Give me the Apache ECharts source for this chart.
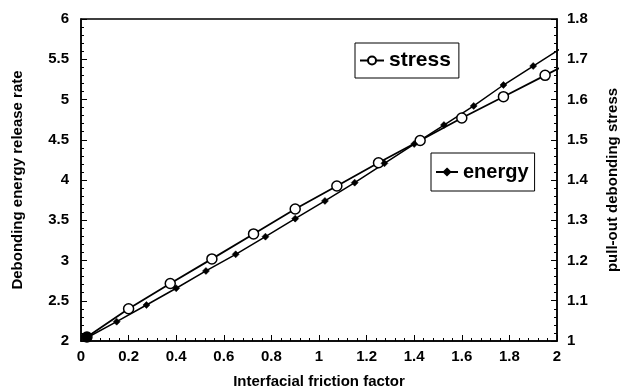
<!DOCTYPE html>
<html><head><meta charset="utf-8">
<script src="https://cdn.jsdelivr.net/npm/echarts@6/dist/echarts.min.js"></script>
<style>html,body{margin:0;padding:0;background:#fff}#c{width:628px;height:392px}</style>
</head><body><div id="c"></div>
<script>
const energyX = [0.025,0.15,0.275,0.4,0.525,0.65,0.775,0.9,1.025,1.15,1.275,1.4,1.525,1.65,1.775,1.9,2.025];
const energyY = [2.04,2.24,2.447,2.655,2.87,3.077,3.296,3.52,3.74,3.967,4.207,4.447,4.683,4.92,5.18,5.416,5.65];
const stressX = [0.025,0.2,0.375,0.55,0.725,0.9,1.075,1.25,1.425,1.6,1.775,1.95,2.125];
const stressY = [1.01,1.08,1.143,1.204,1.266,1.328,1.385,1.443,1.498,1.554,1.607,1.66,1.712];
const xTicks = {min:0, max:2, interval:0.2};
const leftTicks = {min:2, max:6, interval:0.5};
const rightTicks = {min:1, max:1.8, interval:0.1};

const FONT = 'Liberation Sans';
const chart = echarts.init(document.getElementById('c'), null, {renderer:'canvas'});
const axisCommon = {
  axisLine:{show:true, lineStyle:{color:'#000', width:1.5}},
  axisTick:{show:true, inside:true, length:6, lineStyle:{color:'#000', width:1}},
  minorTick:{show:true, splitNumber:5, length:3, lineStyle:{color:'#000', width:1}},
  splitLine:{show:false},
  axisLabel:{color:'#000', fontFamily:FONT, fontSize:15, fontWeight:'bold'},
  nameTextStyle:{color:'#000', fontFamily:FONT, fontSize:15, fontWeight:'bold'}
};
const stressData = stressX.map((x,i)=> i===0 ? {value:[x,stressY[i]], itemStyle:{color:'#000'}} : [x,stressY[i]]);
const energyData = energyX.map((x,i)=>[x,energyY[i]]);
chart.setOption({
  animation:false,
  backgroundColor:'#fff',
  grid:{left:81, right:71, top:19, bottom:51, show:true, borderColor:'#000', borderWidth:1.5, outerBoundsMode:'none', containLabel:false},
  legend:[
    {data:['stress'], left:355, top:43, borderColor:'#000', borderWidth:1, padding:[7,8,7,4], itemWidth:24, itemHeight:10, itemGap:3,
     textStyle:{color:'#000', fontFamily:FONT, fontSize:21, fontWeight:'bold'}},
    {data:['energy'], left:431, top:153, borderColor:'#000', borderWidth:1, padding:[9,6,9,4], itemWidth:22, itemHeight:8, itemGap:3,
     textStyle:{color:'#000', fontFamily:FONT, fontSize:20, fontWeight:'bold'}}
  ],
  xAxis:Object.assign({}, axisCommon, {type:'value', min:xTicks.min, max:xTicks.max, interval:xTicks.interval,
    name:'Interfacial friction factor', nameLocation:'middle', nameGap:33,
    axisLabel:Object.assign({}, axisCommon.axisLabel, {margin:8})}),
  yAxis:[
    Object.assign({}, axisCommon, {type:'value', position:'left', min:leftTicks.min, max:leftTicks.max, interval:leftTicks.interval,
      name:'Debonding energy release rate', nameLocation:'middle', nameGap:56, nameRotate:90,
      axisLabel:Object.assign({}, axisCommon.axisLabel, {margin:12})}),
    Object.assign({}, axisCommon, {type:'value', position:'right', min:rightTicks.min, max:rightTicks.max, interval:rightTicks.interval,
      name:'pull-out debonding stress', nameLocation:'middle', nameGap:48, nameRotate:90,
      axisLabel:Object.assign({}, axisCommon.axisLabel, {margin:10})})
  ],
  series:[
    {name:'stress', type:'line', yAxisIndex:1, data:stressData, clip:true,
     symbol:'circle', symbolSize:10, showAllSymbol:true,
     lineStyle:{color:'#000', width:1.8},
     itemStyle:{color:'#fff', borderColor:'#000', borderWidth:1.5}},
    {name:'energy', type:'line', yAxisIndex:0, data:energyData, clip:true,
     symbol:'diamond', symbolSize:7, showAllSymbol:true,
     lineStyle:{color:'#000', width:1.5},
     itemStyle:{color:'#000', borderColor:'#000', borderWidth:0.5}}
  ]
});
</script></body></html>
